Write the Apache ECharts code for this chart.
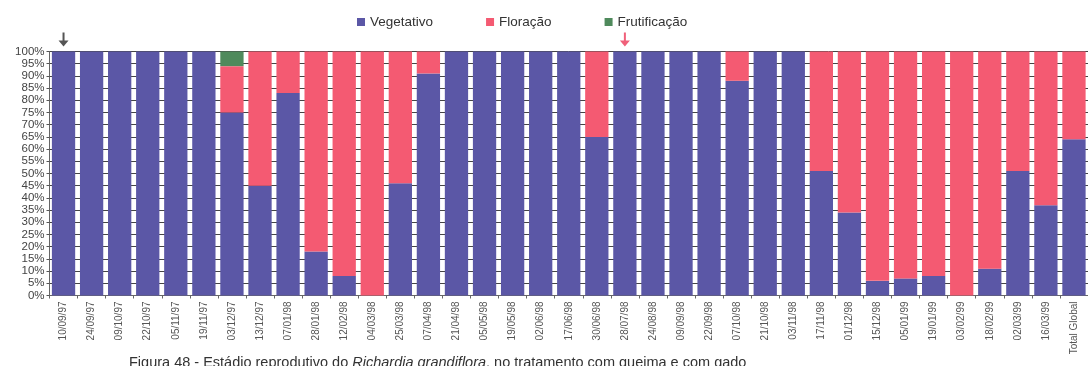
<!DOCTYPE html>
<html>
<head>
<meta charset="utf-8">
<script src="https://cdn.jsdelivr.net/npm/echarts@6/dist/echarts.min.js"></script>
<style>
html,body{margin:0;padding:0;background:#fff;}
#c{width:1088px;height:366px;}
</style>
</head>
<body>
<div id="c"></div>
<script>
const categories = ['10/09/97','24/09/97','09/10/97','22/10/97','05/11/97','19/11/97','03/12/97','13/12/97','07/01/98','28/01/98','12/02/98','04/03/98','25/03/98','07/04/98','21/04/98','05/05/98','19/05/98','02/06/98','17/06/98','30/06/98','28/07/98','24/08/98','09/09/98','22/09/98','07/10/98','21/10/98','03/11/98','17/11/98','01/12/98','15/12/98','05/01/99','19/01/99','03/02/99','18/02/99','02/03/99','16/03/99','Total Global'];
const vegetativo = [100,100,100,100,100,100,75,45,83,18,8,0,46,91,100,100,100,100,100,65,100,100,100,100,88,100,100,51,34,6,7,8,0,11,51,37,64];
const floracao   = [0,0,0,0,0,0,19,55,17,82,92,100,54,9,0,0,0,0,0,35,0,0,0,0,12,0,0,49,66,94,93,92,100,89,49,63,36];
const frutificacao = [0,0,0,0,0,0,6,0,0,0,0,0,0,0,0,0,0,0,0,0,0,0,0,0,0,0,0,0,0,0,0,0,0,0,0,0,0];
const yTicks = {min:0, max:100, interval:5};
const arrowMarks = [{cat:'10/09/97', color:'#555555'}, {cat:'28/07/98', color:'#f0607a'}];

const chart = echarts.init(document.getElementById('c'));
const font = 'Liberation Sans, Arial, sans-serif';
const arrowPath = 'path://M4,0 L6,0 L6,8 L10,8 L5,14 L0,8 L4,8 Z';
chart.setOption({
  animation:false,
  backgroundColor:'#ffffff',
  textStyle:{fontFamily:font},
  title:{
    text:'Figura 48 - Estádio reprodutivo do {i|Richardia grandiflora}, no tratamento com queima e com gado',
    left:124, top:350,
    textStyle:{fontSize:14.5, fontWeight:'normal', color:'#333', fontFamily:font,
      rich:{i:{fontStyle:'italic', fontSize:14.5, color:'#333', fontFamily:font}}}
  },
  legend:{
    data:['Vegetativo','Floração','Frutificação'],
    left:352, top:10,
    itemWidth:8, itemHeight:8, itemGap:53,
    icon:'rect',
    textStyle:{fontSize:13.5, color:'#333', fontFamily:font}
  },
  grid:{left:49.5, top:51.5, width:1040, height:244},
  xAxis:{
    type:'category', data:categories,
    axisLine:{show:true, lineStyle:{color:'#666'}},
    axisTick:{show:true, length:3, lineStyle:{color:'#666'}},
    axisLabel:{rotate:90, fontSize:10, color:'#555', margin:6, interval:0, fontFamily:font}
  },
  yAxis:{
    type:'value', min:yTicks.min, max:yTicks.max, interval:yTicks.interval,
    axisLine:{show:true, lineStyle:{color:'#666'}},
    axisTick:{show:true, length:3, lineStyle:{color:'#555'}},
    axisLabel:{formatter:'{value}%', fontSize:11.5, color:'#444', margin:5, fontFamily:font},
    splitLine:{show:true, lineStyle:{color:'#444', width:1}}
  },
  series:[
    {name:'Vegetativo', type:'bar', stack:'s', data:vegetativo, barCategoryGap:'17%',
      itemStyle:{color:'#5b57a6'}},
    {name:'Floração', type:'bar', stack:'s', data:floracao,
      itemStyle:{color:'#f45a72'}},
    {name:'Frutificação', type:'bar', stack:'s', data:frutificacao,
      itemStyle:{color:'#4f8a5c'},
      markPoint:{
        symbol:arrowPath, symbolSize:[10,14], symbolOffset:[0,-12],
        label:{show:false},
        data:arrowMarks.map(a=>({coord:[a.cat,100], itemStyle:{color:a.color}}))
      }}
  ]
});
</script>
</body>
</html>
